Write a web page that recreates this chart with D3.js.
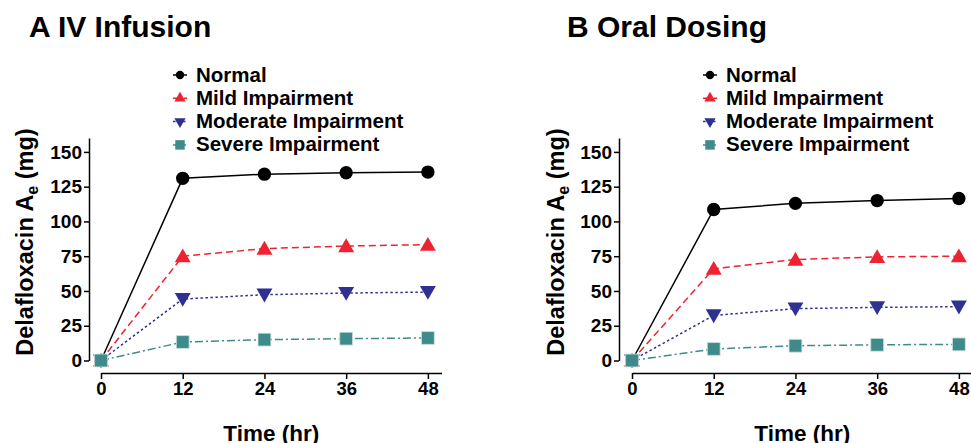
<!DOCTYPE html>
<html>
<head>
<meta charset="utf-8">
<script src="https://cdn.jsdelivr.net/npm/d3@7"></script>
<style>
  body { margin: 0; background: #fff; }
  text { font-family: "Liberation Sans", Arial, sans-serif; font-weight: bold; fill: #000; }
</style>
</head>
<body>
<div id="chart"></div>
<script>
// data
var times = [0, 12, 24, 36, 48];
var seriesNames = ["Normal", "Mild Impairment", "Moderate Impairment", "Severe Impairment"];
var ivNormal   = [0, 131, 134, 135, 135.5];
var ivMild     = [0, 75, 80.5, 82.3, 83.3];
var ivModerate = [0, 44.2, 47.3, 48.5, 49.2];
var ivSevere   = [0, 13.3, 15, 15.7, 16.2];
var oralNormal   = [0, 108.6, 113, 115, 116.5];
var oralMild     = [0, 66, 72.6, 74.5, 75];
var oralModerate = [0, 32.4, 37.3, 38.2, 38.7];
var oralSevere   = [0, 8.3, 10.6, 11.3, 11.6];
var yTicks = [0, 25, 50, 75, 100, 125, 150];
var panelTitles = ["A IV Infusion", "B Oral Dosing"];

var width = 971, height = 443;
var colors = ["#000000", "#ee2230", "#2e3192", "#3f8a8a"];
var dashes = [null, "7,4", "2.5,2.5", "8,3,2,3"];
var symbols = [d3.symbolCircle, d3.symbolTriangle, d3.symbolTriangle, d3.symbolSquare];
var rotations = [0, 0, 180, 0];

var svg = d3.select("#chart").append("svg")
    .attr("width", width)
    .attr("height", height);

var panels = [
  { title: panelTitles[0], values: [ivNormal, ivMild, ivModerate, ivSevere],
    yAxisX: 89, x0: 101, titleX: 29, legendX: 180, labelX: 33 },
  { title: panelTitles[1], values: [oralNormal, oralMild, oralModerate, oralSevere],
    yAxisX: 619, x0: 632, titleX: 567, legendX: 710, labelX: 564 }
];

panels.forEach(function(p) {
  var x = d3.scaleLinear().domain([0, 50]).range([p.x0, p.x0 + 340.5]);
  var y = d3.scaleLinear().domain([0, 160]).range([360.5, 138]);

  // title
  svg.append("text")
      .attr("x", p.titleX).attr("y", 37)
      .style("font-size", "30px")
      .text(p.title);

  // y axis
  var yAxis = svg.append("g")
      .attr("transform", "translate(" + p.yAxisX + ",0)")
      .call(d3.axisLeft(y).tickValues(yTicks).tickSize(5).tickPadding(2).tickSizeOuter(0));
  yAxis.select(".domain").attr("stroke-width", 1.5);
  yAxis.selectAll(".tick line").attr("stroke-width", 1.5);
  yAxis.selectAll("text").style("font-size", "19px").attr("font-family", null);

  // x axis
  var xAxis = svg.append("g")
      .attr("transform", "translate(0,373)")
      .call(d3.axisBottom(x).tickValues(times).tickSize(6).tickPadding(3).tickSizeOuter(0));
  xAxis.select(".domain").attr("stroke-width", 1.5);
  xAxis.selectAll(".tick line").attr("stroke-width", 1.5);
  xAxis.selectAll("text").style("font-size", "18.5px").attr("font-family", null);

  // axis titles
  svg.append("text")
      .attr("x", (x(0) + x(50)) / 2).attr("y", 441)
      .attr("text-anchor", "middle")
      .style("font-size", "22.5px")
      .text("Time (hr)");

  var yl = svg.append("text")
      .attr("transform", "translate(" + p.labelX + ",242) rotate(-90)")
      .attr("text-anchor", "middle")
      .style("font-size", "23.5px");
  yl.append("tspan").text("Delafloxacin A");
  yl.append("tspan").attr("dy", 5).style("font-size", "16px").text("e");
  yl.append("tspan").attr("dy", -5).text(" (mg)");

  // lines and markers
  var line = d3.line().x(function(d, i) { return x(times[i]); }).y(function(d) { return y(d); });
  p.values.forEach(function(vals, s) {
    svg.append("path")
        .datum(vals)
        .attr("d", line)
        .attr("fill", "none")
        .attr("stroke", colors[s])
        .attr("stroke-width", 1.5)
        .attr("stroke-dasharray", dashes[s]);
  });
  p.values.forEach(function(vals, s) {
    svg.selectAll(null)
        .data(vals)
        .enter().append("path")
        .attr("d", d3.symbol().type(symbols[s]).size(s === 0 ? 140 : (s === 3 ? 165 : 110)))
        .attr("transform", function(d, i) {
          return "translate(" + x(times[i]) + "," + (y(d) + (s === 1 ? 1.5 : s === 2 ? -1.5 : 0)) + ") rotate(" + rotations[s] + ")";
        })
        .attr("fill", colors[s])
        .attr("stroke", s === 3 ? "#cfe3e3" : "none")
        .attr("stroke-width", 0.8);
  });

  // legend
  seriesNames.forEach(function(name, s) {
    var ly = 75 + s * 23.3;
    svg.append("line")
        .attr("x1", p.legendX - 7).attr("x2", p.legendX + 7)
        .attr("y1", ly).attr("y2", ly)
        .attr("stroke", colors[s]).attr("stroke-width", 1.5)
        .attr("stroke-dasharray", dashes[s]);
    svg.append("path")
        .attr("d", d3.symbol().type(symbols[s]).size(s === 0 ? 55 : (s === 3 ? 90 : 55)))
        .attr("transform", "translate(" + p.legendX + "," + ly + ") rotate(" + rotations[s] + ")")
        .attr("fill", colors[s]);
    svg.append("text")
        .attr("x", p.legendX + 16).attr("y", ly + 6.5)
        .style("font-size", "20.5px")
        .text(name);
  });
});
</script>
</body>
</html>
